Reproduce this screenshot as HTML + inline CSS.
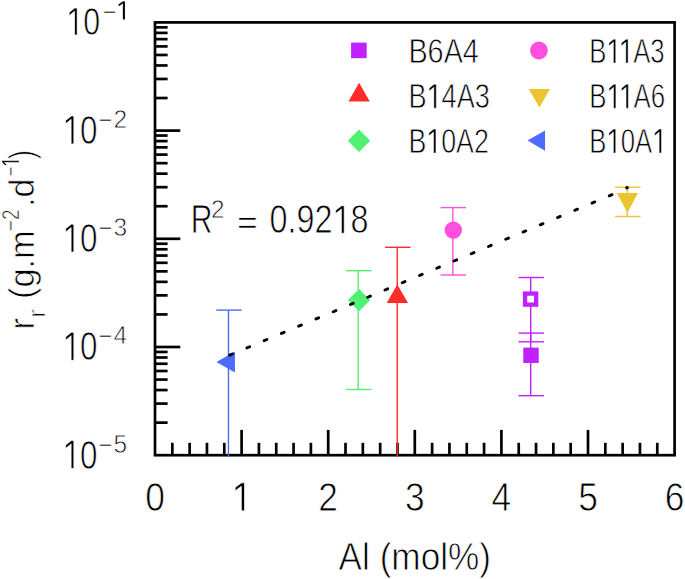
<!DOCTYPE html>
<html><head><meta charset="utf-8"><title>chart</title>
<style>html,body{margin:0;padding:0;background:#fff;}svg{display:block;}text{font-family:"Liberation Sans",sans-serif;fill:#000;stroke:#fff;stroke-width:0.7px;font-kerning:none;white-space:pre;}</style>
</head><body>
<svg width="685" height="579" viewBox="0 0 685 579">
<rect x="0" y="0" width="685" height="579" fill="#fff"/>
<g stroke="#000" stroke-width="2.70" fill="none" stroke-linecap="butt">
<rect x="155.00" y="22.40" width="519.60" height="432.80"/>
<line x1="172.32" y1="455.20" x2="172.32" y2="442.80"/>
<line x1="189.64" y1="455.20" x2="189.64" y2="442.80"/>
<line x1="206.96" y1="455.20" x2="206.96" y2="442.80"/>
<line x1="224.28" y1="455.20" x2="224.28" y2="442.80"/>
<line x1="241.60" y1="455.20" x2="241.60" y2="429.90"/>
<line x1="258.92" y1="455.20" x2="258.92" y2="442.80"/>
<line x1="276.24" y1="455.20" x2="276.24" y2="442.80"/>
<line x1="293.56" y1="455.20" x2="293.56" y2="442.80"/>
<line x1="310.88" y1="455.20" x2="310.88" y2="442.80"/>
<line x1="328.20" y1="455.20" x2="328.20" y2="429.90"/>
<line x1="345.52" y1="455.20" x2="345.52" y2="442.80"/>
<line x1="362.84" y1="455.20" x2="362.84" y2="442.80"/>
<line x1="380.16" y1="455.20" x2="380.16" y2="442.80"/>
<line x1="397.48" y1="455.20" x2="397.48" y2="442.80"/>
<line x1="414.80" y1="455.20" x2="414.80" y2="429.90"/>
<line x1="432.12" y1="455.20" x2="432.12" y2="442.80"/>
<line x1="449.44" y1="455.20" x2="449.44" y2="442.80"/>
<line x1="466.76" y1="455.20" x2="466.76" y2="442.80"/>
<line x1="484.08" y1="455.20" x2="484.08" y2="442.80"/>
<line x1="501.40" y1="455.20" x2="501.40" y2="429.90"/>
<line x1="518.72" y1="455.20" x2="518.72" y2="442.80"/>
<line x1="536.04" y1="455.20" x2="536.04" y2="442.80"/>
<line x1="553.36" y1="455.20" x2="553.36" y2="442.80"/>
<line x1="570.68" y1="455.20" x2="570.68" y2="442.80"/>
<line x1="588.00" y1="455.20" x2="588.00" y2="429.90"/>
<line x1="605.32" y1="455.20" x2="605.32" y2="442.80"/>
<line x1="622.64" y1="455.20" x2="622.64" y2="442.80"/>
<line x1="639.96" y1="455.20" x2="639.96" y2="442.80"/>
<line x1="657.28" y1="455.20" x2="657.28" y2="442.80"/>
<line x1="155.00" y1="422.63" x2="167.60" y2="422.63"/>
<line x1="155.00" y1="403.58" x2="167.60" y2="403.58"/>
<line x1="155.00" y1="390.06" x2="167.60" y2="390.06"/>
<line x1="155.00" y1="379.57" x2="167.60" y2="379.57"/>
<line x1="155.00" y1="371.00" x2="167.60" y2="371.00"/>
<line x1="155.00" y1="363.76" x2="167.60" y2="363.76"/>
<line x1="155.00" y1="357.49" x2="167.60" y2="357.49"/>
<line x1="155.00" y1="351.95" x2="167.60" y2="351.95"/>
<line x1="155.00" y1="347.00" x2="180.30" y2="347.00"/>
<line x1="155.00" y1="314.43" x2="167.60" y2="314.43"/>
<line x1="155.00" y1="295.38" x2="167.60" y2="295.38"/>
<line x1="155.00" y1="281.86" x2="167.60" y2="281.86"/>
<line x1="155.00" y1="271.37" x2="167.60" y2="271.37"/>
<line x1="155.00" y1="262.80" x2="167.60" y2="262.80"/>
<line x1="155.00" y1="255.56" x2="167.60" y2="255.56"/>
<line x1="155.00" y1="249.29" x2="167.60" y2="249.29"/>
<line x1="155.00" y1="243.75" x2="167.60" y2="243.75"/>
<line x1="155.00" y1="238.80" x2="180.30" y2="238.80"/>
<line x1="155.00" y1="206.23" x2="167.60" y2="206.23"/>
<line x1="155.00" y1="187.18" x2="167.60" y2="187.18"/>
<line x1="155.00" y1="173.66" x2="167.60" y2="173.66"/>
<line x1="155.00" y1="163.17" x2="167.60" y2="163.17"/>
<line x1="155.00" y1="154.60" x2="167.60" y2="154.60"/>
<line x1="155.00" y1="147.36" x2="167.60" y2="147.36"/>
<line x1="155.00" y1="141.09" x2="167.60" y2="141.09"/>
<line x1="155.00" y1="135.55" x2="167.60" y2="135.55"/>
<line x1="155.00" y1="130.60" x2="180.30" y2="130.60"/>
<line x1="155.00" y1="98.03" x2="167.60" y2="98.03"/>
<line x1="155.00" y1="78.98" x2="167.60" y2="78.98"/>
<line x1="155.00" y1="65.46" x2="167.60" y2="65.46"/>
<line x1="155.00" y1="54.97" x2="167.60" y2="54.97"/>
<line x1="155.00" y1="46.40" x2="167.60" y2="46.40"/>
<line x1="155.00" y1="39.16" x2="167.60" y2="39.16"/>
<line x1="155.00" y1="32.89" x2="167.60" y2="32.89"/>
<line x1="155.00" y1="27.35" x2="167.60" y2="27.35"/>
</g>
<g stroke="#BF22FF" stroke-width="1.40" fill="none"><line x1="530.70" y1="277.50" x2="530.70" y2="341.80"/><line x1="518.50" y1="277.50" x2="543.90" y2="277.50"/><line x1="518.50" y1="341.80" x2="543.90" y2="341.80"/></g>
<g stroke="#BF22FF" stroke-width="1.40" fill="none"><line x1="530.70" y1="333.10" x2="530.70" y2="395.70"/><line x1="518.50" y1="333.10" x2="543.90" y2="333.10"/><line x1="518.50" y1="395.70" x2="543.90" y2="395.70"/></g>
<rect x="525.05" y="293.55" width="11.10" height="11.10" fill="#fff" stroke="#BF22FF" stroke-width="4.30"/>
<rect x="523.30" y="347.60" width="15.40" height="15.40" fill="#BF22FF"/>
<g stroke="#FF2C2A" stroke-width="1.40" fill="none"><line x1="397.25" y1="247.30" x2="397.25" y2="456.30"/><line x1="385.05" y1="247.30" x2="410.45" y2="247.30"/></g>
<polygon points="397.35,284.40 386.65,302.90 408.05,302.90" fill="#FF2C2A"/>
<g stroke="#52F073" stroke-width="1.40" fill="none"><line x1="358.25" y1="270.70" x2="358.25" y2="389.50"/><line x1="346.05" y1="270.70" x2="371.45" y2="270.70"/><line x1="346.05" y1="389.50" x2="371.45" y2="389.50"/></g>
<polygon points="359.10,288.90 370.30,300.10 359.10,311.30 347.90,300.10" fill="#52F073"/>
<g stroke="#FF4EE0" stroke-width="1.40" fill="none"><line x1="452.85" y1="207.60" x2="452.85" y2="275.00"/><line x1="440.65" y1="207.60" x2="466.05" y2="207.60"/><line x1="440.65" y1="275.00" x2="466.05" y2="275.00"/></g>
<circle cx="453.30" cy="230.10" r="8.70" fill="#FF4EE0"/>
<g stroke="#ECC330" stroke-width="1.40" fill="none"><line x1="627.30" y1="187.20" x2="627.30" y2="216.50"/><line x1="615.10" y1="187.20" x2="640.50" y2="187.20"/><line x1="615.10" y1="216.50" x2="640.50" y2="216.50"/></g>
<polygon points="627.40,212.70 616.85,193.10 637.95,193.10" fill="#ECC330"/>
<g stroke="#4E6BFF" stroke-width="1.40" fill="none"><line x1="228.45" y1="310.10" x2="228.45" y2="456.30"/><line x1="216.25" y1="310.10" x2="241.65" y2="310.10"/></g>
<polygon points="216.42,362.00 234.92,351.48 234.92,372.52" fill="#4E6BFF"/>
<g stroke="#000" stroke-width="2.9" stroke-linecap="round"><line x1="229.62" y1="355.18" x2="232.38" y2="354.02"/><line x1="246.87" y1="347.94" x2="249.64" y2="346.78"/><line x1="264.13" y1="340.69" x2="266.90" y2="339.53"/><line x1="281.39" y1="333.45" x2="284.15" y2="332.29"/><line x1="298.64" y1="326.21" x2="301.41" y2="325.05"/><line x1="315.90" y1="318.96" x2="318.67" y2="317.80"/><line x1="333.16" y1="311.72" x2="335.92" y2="310.56"/><line x1="350.41" y1="304.48" x2="353.18" y2="303.32"/><line x1="367.67" y1="297.23" x2="370.44" y2="296.07"/><line x1="384.93" y1="289.99" x2="387.69" y2="288.83"/><line x1="402.18" y1="282.75" x2="404.95" y2="281.58"/><line x1="419.44" y1="275.50" x2="422.20" y2="274.34"/><line x1="436.70" y1="268.26" x2="439.46" y2="267.10"/><line x1="453.95" y1="261.02" x2="456.72" y2="259.85"/><line x1="471.21" y1="253.77" x2="473.97" y2="252.61"/><line x1="488.46" y1="246.53" x2="491.23" y2="245.37"/><line x1="505.72" y1="239.28" x2="508.49" y2="238.12"/><line x1="522.98" y1="232.04" x2="525.74" y2="230.88"/><line x1="540.23" y1="224.80" x2="543.00" y2="223.64"/><line x1="557.49" y1="217.55" x2="560.26" y2="216.39"/><line x1="574.75" y1="210.31" x2="577.51" y2="209.15"/><line x1="592.00" y1="203.07" x2="594.77" y2="201.91"/><line x1="609.26" y1="195.82" x2="612.03" y2="194.66"/><circle cx="627.0" cy="187.8" r="1.8" fill="#000" stroke="none"/></g>
<rect x="351.10" y="42.60" width="15.60" height="15.60" fill="#BF22FF"/>
<polygon points="359.10,82.84 348.40,101.38 369.80,101.38" fill="#FF2C2A"/>
<polygon points="359.00,129.50 370.20,140.70 359.00,151.90 347.80,140.70" fill="#52F073"/>
<circle cx="538.90" cy="50.50" r="8.90" fill="#FF4EE0"/>
<polygon points="539.40,107.44 528.80,89.08 550.00,89.08" fill="#ECC330"/>
<polygon points="527.47,140.60 545.07,130.50 545.07,150.70" fill="#4E6BFF"/>
<g transform="translate(408.40,63.10) scale(0.9297,1.1200)"><text x="0.000" y="0" font-size="31.00" stroke-width="0.50">B6A4</text></g>
<g transform="translate(408.40,108.20) scale(0.8756,1.1200)"><text x="0.000" y="0" font-size="31.00" stroke-width="0.50">B</text><path transform="translate(20.677,0) scale(0.01514,-0.01514)" d="M555 0V1237L197 1010V1180L570 1409H736V0Z" fill="#000" stroke="#fff" stroke-width="33.0"/><text x="37.917" y="0" font-size="31.00" stroke-width="0.50">4A3</text></g>
<g transform="translate(408.40,153.00) scale(0.8649,1.1200)"><text x="0.000" y="0" font-size="31.00" stroke-width="0.50">B</text><path transform="translate(20.677,0) scale(0.01514,-0.01514)" d="M555 0V1237L197 1010V1180L570 1409H736V0Z" fill="#000" stroke="#fff" stroke-width="33.0"/><text x="37.917" y="0" font-size="31.00" stroke-width="0.50">0A2</text></g>
<g transform="translate(589.30,63.10) scale(0.8295,1.1200)"><text x="0.000" y="0" font-size="31.00" stroke-width="0.50">B</text><path transform="translate(20.677,0) scale(0.01514,-0.01514)" d="M555 0V1237L197 1010V1180L570 1409H736V0Z" fill="#000" stroke="#fff" stroke-width="33.0"/><path transform="translate(35.623,0) scale(0.01514,-0.01514)" d="M555 0V1237L197 1010V1180L570 1409H736V0Z" fill="#000" stroke="#fff" stroke-width="33.0"/><text x="52.864" y="0" font-size="31.00" stroke-width="0.50">A3</text></g>
<g transform="translate(589.30,108.20) scale(0.8350,1.1200)"><text x="0.000" y="0" font-size="31.00" stroke-width="0.50">B</text><path transform="translate(20.677,0) scale(0.01514,-0.01514)" d="M555 0V1237L197 1010V1180L570 1409H736V0Z" fill="#000" stroke="#fff" stroke-width="33.0"/><path transform="translate(35.623,0) scale(0.01514,-0.01514)" d="M555 0V1237L197 1010V1180L570 1409H736V0Z" fill="#000" stroke="#fff" stroke-width="33.0"/><text x="52.864" y="0" font-size="31.00" stroke-width="0.50">A6</text></g>
<g transform="translate(589.30,153.00) scale(0.8294,1.1200)"><text x="0.000" y="0" font-size="31.00" stroke-width="0.50">B</text><path transform="translate(20.677,0) scale(0.01514,-0.01514)" d="M555 0V1237L197 1010V1180L570 1409H736V0Z" fill="#000" stroke="#fff" stroke-width="33.0"/><text x="37.917" y="0" font-size="31.00" stroke-width="0.50">0A</text><path transform="translate(75.835,0) scale(0.01514,-0.01514)" d="M555 0V1237L197 1010V1180L570 1409H736V0Z" fill="#000" stroke="#fff" stroke-width="33.0"/></g>
<g transform="translate(145.17,510.80) scale(1.0400,1.1950)"><text x="0.000" y="0" font-size="34.00" stroke-width="0.60">0</text></g>
<g transform="translate(231.77,510.80) scale(1.0400,1.1950)"><path transform="translate(0.000,0) scale(0.01660,-0.01660)" d="M555 0V1237L197 1010V1180L570 1409H736V0Z" fill="#000" stroke="#fff" stroke-width="36.1"/></g>
<g transform="translate(318.37,510.80) scale(1.0400,1.1950)"><text x="0.000" y="0" font-size="34.00" stroke-width="0.60">2</text></g>
<g transform="translate(404.97,510.80) scale(1.0400,1.1950)"><text x="0.000" y="0" font-size="34.00" stroke-width="0.60">3</text></g>
<g transform="translate(491.57,510.80) scale(1.0400,1.1950)"><text x="0.000" y="0" font-size="34.00" stroke-width="0.60">4</text></g>
<g transform="translate(578.17,510.80) scale(1.0400,1.1950)"><text x="0.000" y="0" font-size="34.00" stroke-width="0.60">5</text></g>
<g transform="translate(664.77,510.80) scale(1.0400,1.1950)"><text x="0.000" y="0" font-size="34.00" stroke-width="0.60">6</text></g>
<g transform="translate(66.30,35.00) scale(0.8911,1.1550)"><path transform="translate(0.000,0) scale(0.01660,-0.01660)" d="M555 0V1237L197 1010V1180L570 1409H736V0Z" fill="#000" stroke="#fff" stroke-width="42.0"/><text x="18.909" y="0" font-size="34.00" stroke-width="0.70">0</text></g>
<g transform="translate(102.80,21.00) scale(1.0400,1.1520)"><text x="0.000" y="0" font-size="23.12" stroke-width="0.10">−</text></g>
<g transform="translate(116.20,19.50) scale(1.0600,1.1450)"><path transform="translate(0.000,0) scale(0.01129,-0.01129)" d="M555 0V1237L197 1010V1180L570 1409H736V0Z" fill="#000" stroke="#fff" stroke-width="10.6"/></g>
<g transform="translate(62.60,143.90) scale(0.9228,1.1950)"><path transform="translate(0.000,0) scale(0.01660,-0.01660)" d="M555 0V1237L197 1010V1180L570 1409H736V0Z" fill="#000" stroke="#fff" stroke-width="42.0"/><text x="18.909" y="0" font-size="34.00" stroke-width="0.70">0</text></g>
<g transform="translate(98.60,129.00) scale(1.0400,1.1520)"><text x="0.000" y="0" font-size="23.12" stroke-width="0.10">−</text></g>
<g transform="translate(113.60,128.00) scale(1.0600,1.1450)"><text x="0.000" y="0" font-size="23.12" stroke-width="0.12">2</text></g>
<g transform="translate(62.60,252.10) scale(0.9228,1.1950)"><path transform="translate(0.000,0) scale(0.01660,-0.01660)" d="M555 0V1237L197 1010V1180L570 1409H736V0Z" fill="#000" stroke="#fff" stroke-width="42.0"/><text x="18.909" y="0" font-size="34.00" stroke-width="0.70">0</text></g>
<g transform="translate(98.60,237.20) scale(1.0400,1.1520)"><text x="0.000" y="0" font-size="23.12" stroke-width="0.10">−</text></g>
<g transform="translate(113.60,236.20) scale(1.0600,1.1450)"><text x="0.000" y="0" font-size="23.12" stroke-width="0.12">3</text></g>
<g transform="translate(62.60,360.30) scale(0.9228,1.1950)"><path transform="translate(0.000,0) scale(0.01660,-0.01660)" d="M555 0V1237L197 1010V1180L570 1409H736V0Z" fill="#000" stroke="#fff" stroke-width="42.0"/><text x="18.909" y="0" font-size="34.00" stroke-width="0.70">0</text></g>
<g transform="translate(98.60,345.40) scale(1.0400,1.1520)"><text x="0.000" y="0" font-size="23.12" stroke-width="0.10">−</text></g>
<g transform="translate(113.60,344.40) scale(1.0600,1.1450)"><text x="0.000" y="0" font-size="23.12" stroke-width="0.12">4</text></g>
<g transform="translate(62.60,468.50) scale(0.9228,1.1950)"><path transform="translate(0.000,0) scale(0.01660,-0.01660)" d="M555 0V1237L197 1010V1180L570 1409H736V0Z" fill="#000" stroke="#fff" stroke-width="42.0"/><text x="18.909" y="0" font-size="34.00" stroke-width="0.70">0</text></g>
<g transform="translate(98.60,453.60) scale(1.0400,1.1520)"><text x="0.000" y="0" font-size="23.12" stroke-width="0.10">−</text></g>
<g transform="translate(113.60,452.60) scale(1.0600,1.1450)"><text x="0.000" y="0" font-size="23.12" stroke-width="0.12">5</text></g>
<g transform="translate(190.70,233.20) scale(0.8850,1.1700)"><text x="0.000" y="0" font-size="34.00" stroke-width="0.70">R</text></g>
<g transform="translate(211.00,217.60) scale(1.0800,1.1700)"><text x="0.000" y="0" font-size="22.44" stroke-width="0.25">2</text></g>
<g transform="translate(236.90,232.55) scale(1.0470,0.9400)"><text x="0.000" y="0" font-size="34.00" stroke-width="0.20">=</text></g>
<g transform="translate(269.60,233.30) scale(0.9520,1.1800)"><text x="0.000" y="0" font-size="34.00" stroke-width="0.70">0.92</text><path transform="translate(66.174,0) scale(0.01660,-0.01660)" d="M555 0V1237L197 1010V1180L570 1409H736V0Z" fill="#000" stroke="#fff" stroke-width="42.0"/><text x="85.083" y="0" font-size="34.00" stroke-width="0.70">8</text></g>
<g transform="translate(338.60,570.20) scale(1.0350,1.1400)"><text x="0.000" y="0" font-size="34.00" stroke-width="0.70">Al (mol%)</text></g>
<g transform="translate(34.2,328) rotate(-90) scale(1,1.04)">
<g transform="translate(-1.50,0.00) scale(1.0000,1)"><text x="0.000" y="0" font-size="34.00" stroke-width="0.50">r</text></g>
<g transform="translate(10.20,10.00) scale(1.0851,1)"><text x="0.000" y="0" font-size="23.80" stroke-width="0.20">r</text></g>
<g transform="translate(29.00,0.00) scale(1.0074,1)"><text x="0.000" y="0" font-size="34.00" stroke-width="0.50">(g.m</text></g>
<g transform="translate(97.00,-14.60) scale(0.7923,1)"><text x="0.000" y="0" font-size="23.80" stroke-width="0.20">−2</text></g>
<g transform="translate(121.00,0.00) scale(1.0051,1)"><text x="0.000" y="0" font-size="34.00" stroke-width="0.50">.d</text></g>
<g transform="translate(152.00,-14.60) scale(0.6818,1)"><text x="0.000" y="0" font-size="23.80" stroke-width="0.20">−</text><path transform="translate(13.899,0) scale(0.01162,-0.01162)" d="M555 0V1237L197 1010V1180L570 1409H736V0Z" fill="#000" stroke="#fff" stroke-width="17.2"/></g>
<g transform="translate(169.00,0.00) scale(0.7949,1)"><text x="0.000" y="0" font-size="34.00" stroke-width="0.50">)</text></g>
</g>
</svg>
</body></html>
